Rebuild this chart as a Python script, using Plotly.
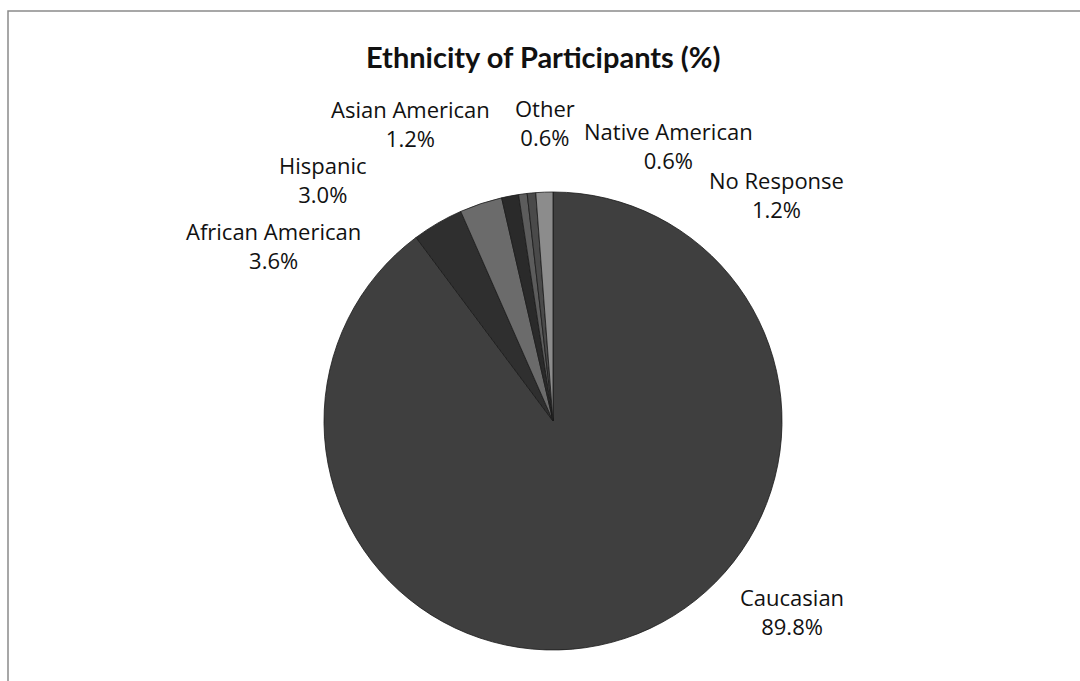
import plotly.graph_objects as go

# Ethnicity breakdown of participants (percent)
categories = ["Caucasian", "African American", "Hispanic", "Asian American",
              "Other", "Native American", "No Response"]
percent = [89.8, 3.6, 3.0, 1.2, 0.6, 0.6, 1.2]

# Greyscale fill per slice
slice_colors = ["#3f3f3f", "#2f2f2f", "#6b6b6b", "#2a2a2a",
                "#5c5c5c", "#4a4a4a", "#8c8c8c"]

# Label block centres in pixels (x from left, y from top)
label_pos = [(792, 611), (273, 246), (323, 179), (410, 124),
             (545, 122), (668, 145), (776, 194)]

W, H = 1080, 681
cx, cy, r = 553, 421, 229

fig = go.Figure(go.Pie(
    labels=categories,
    values=percent,
    sort=False,
    direction="clockwise",
    rotation=0,
    textinfo="none",
    hoverinfo="label+percent",
    marker=dict(colors=slice_colors, line=dict(color="#1a1a1a", width=0.8)),
    domain=dict(x=[(cx - r) / W, (cx + r) / W],
                y=[1 - (cy + r) / H, 1 - (cy - r) / H]),
    showlegend=False,
))

annotations = []
for name, val, (px, py) in zip(categories, percent, label_pos):
    annotations.append(dict(
        x=px / W, y=1 - py / H, xref="paper", yref="paper",
        text=f"{name}<br>{val:.1f}%", showarrow=False,
        xanchor="center", yanchor="middle", align="center",
        font=dict(family="Open Sans", size=22, color="#111111"),
    ))

annotations.append(dict(
    x=543 / W, y=1 - 57 / H, xref="paper", yref="paper",
    text="<b>Ethnicity of Participants (%)</b>", showarrow=False,
    xanchor="center", yanchor="middle",
    font=dict(family="Lato", size=29, color="#111111"),
))

fig.update_layout(
    width=W, height=H,
    margin=dict(l=0, r=0, t=0, b=0),
    paper_bgcolor="white",
    plot_bgcolor="white",
    annotations=annotations,
    shapes=[dict(type="rect", xref="paper", yref="paper",
                 x0=8 / W, x1=1.02, y0=-0.02, y1=1 - 11 / H,
                 line=dict(color="#8a8a8a", width=1.5))],
)

fig.write_html("out.html")
